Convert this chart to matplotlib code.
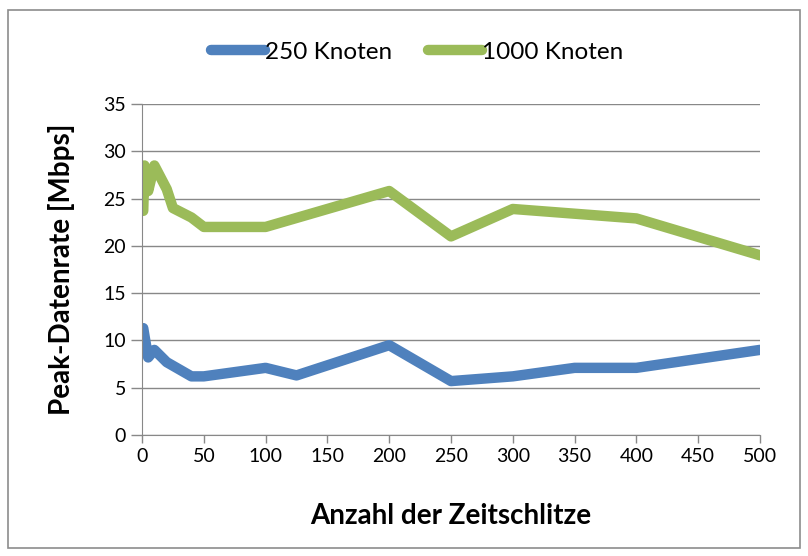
import matplotlib
matplotlib.use('Agg')
import matplotlib.pyplot as plt
from matplotlib.patches import Rectangle

plt.rcParams['font.family'] = ['Lato', 'DejaVu Sans']

# slots (x) and peak data rate (y) per series
x_250 = [1, 2, 5, 10, 20, 40, 50, 100, 125, 200, 250, 300, 350, 400, 500]
y_250 = [11.3, 10.5, 8.2, 9.0, 7.7, 6.2, 6.2, 7.1, 6.3, 9.5, 5.7, 6.2, 7.1, 7.1, 9.0]

x_1000 = [1, 2, 5, 10, 20, 25, 40, 50, 100, 200, 250, 300, 400, 500]
y_1000 = [23.7, 28.5, 25.8, 28.5, 26.0, 24.0, 23.0, 22.0, 22.0, 25.8, 21.0, 23.9, 22.9, 19.0]

labels = ['250 Knoten', '1000 Knoten']
colors = ['#4f81bd', '#9bbb59']

fig = plt.figure(figsize=(8.08, 5.56), dpi=100)
ax = fig.add_axes([142/808, 1-435/556, (760-142)/808, (435-104)/556])

# outer chart frame
fig.patches.append(Rectangle((8/808, 1-548/556), 792/808, 538/556, transform=fig.transFigure,
                             fill=False, edgecolor='#8c8c8c', linewidth=1.2))

ax.plot(x_250, y_250, color=colors[0], linewidth=7.5, solid_capstyle='round', solid_joinstyle='round', label=labels[0])
ax.plot(x_1000, y_1000, color=colors[1], linewidth=7.5, solid_capstyle='round', solid_joinstyle='round', label=labels[1])

ax.set_xlim(0, 500)
ax.set_ylim(0, 35)
ax.set_xticks(range(0, 501, 50))
ax.set_yticks(range(0, 36, 5))
ax.grid(axis='y', color='#888888', linewidth=1)
ax.set_axisbelow(True)
for s in ['top', 'right']:
    ax.spines[s].set_visible(False)
for s in ['left', 'bottom']:
    ax.spines[s].set_color('#888888')
ax.tick_params(axis='both', labelsize=14, color='#888888', length=6, width=1)
ax.tick_params(axis='y', length=8)

ax.set_xlabel('Anzahl der Zeitschlitze', fontsize=20, fontweight='bold', labelpad=27)
ax.set_ylabel('Peak-Datenrate [Mbps]', fontsize=20, fontweight='bold', labelpad=20)

ax.legend(loc='lower center', bbox_to_anchor=(0.445, 1.058), ncol=2, frameon=False, fontsize=17.5,
          handlelength=2.2, handletextpad=0.0, columnspacing=1.5)

fig.savefig('out.png', dpi=100)
